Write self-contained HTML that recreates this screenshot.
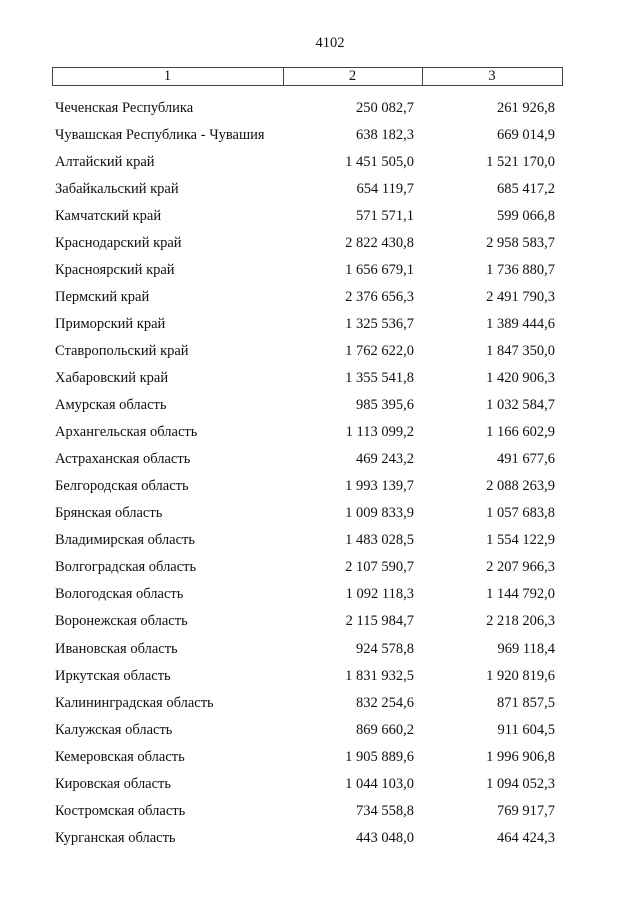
<!DOCTYPE html>
<html>
<head>
<meta charset="utf-8">
<style>
html,body{margin:0;padding:0;background:#fff;}
body{width:640px;height:905px;position:relative;overflow:hidden;font-family:"Liberation Serif","Noto Serif CJK SC",serif;color:#111;}
.pg{position:absolute;left:0;width:660px;text-align:center;top:29.6px;font-size:14.5px;line-height:27.05px;}
.box{position:absolute;left:52px;top:67px;width:509px;height:17px;border:1px solid #444;}
.v{position:absolute;top:67px;width:1px;height:19px;background:#444;}
.h{position:absolute;top:62.6px;font-size:14.5px;line-height:27.05px;text-align:center;}
.rows{position:absolute;left:0;top:94.6px;width:640px;}
.r{position:relative;height:27.05px;line-height:27.05px;font-size:14.5px;white-space:nowrap;}
.r .a{position:absolute;left:55px;}
.r .b{position:absolute;right:226px;}
.r .c{position:absolute;right:85px;}
</style>
</head>
<body>
<div class="pg">4102</div>
<div class="box"></div>
<div class="v" style="left:283px"></div>
<div class="v" style="left:422px"></div>
<div class="h" style="left:52px;width:231px">1</div>
<div class="h" style="left:283px;width:139px">2</div>
<div class="h" style="left:422px;width:140px">3</div>
<div class="rows">
<div class="r"><span class="a">Чеченская Республика</span><span class="b">250 082,7</span><span class="c">261 926,8</span></div>
<div class="r"><span class="a">Чувашская Республика - Чувашия</span><span class="b">638 182,3</span><span class="c">669 014,9</span></div>
<div class="r"><span class="a">Алтайский край</span><span class="b">1 451 505,0</span><span class="c">1 521 170,0</span></div>
<div class="r"><span class="a">Забайкальский край</span><span class="b">654 119,7</span><span class="c">685 417,2</span></div>
<div class="r"><span class="a">Камчатский край</span><span class="b">571 571,1</span><span class="c">599 066,8</span></div>
<div class="r"><span class="a">Краснодарский край</span><span class="b">2 822 430,8</span><span class="c">2 958 583,7</span></div>
<div class="r"><span class="a">Красноярский край</span><span class="b">1 656 679,1</span><span class="c">1 736 880,7</span></div>
<div class="r"><span class="a">Пермский край</span><span class="b">2 376 656,3</span><span class="c">2 491 790,3</span></div>
<div class="r"><span class="a">Приморский край</span><span class="b">1 325 536,7</span><span class="c">1 389 444,6</span></div>
<div class="r"><span class="a">Ставропольский край</span><span class="b">1 762 622,0</span><span class="c">1 847 350,0</span></div>
<div class="r"><span class="a">Хабаровский край</span><span class="b">1 355 541,8</span><span class="c">1 420 906,3</span></div>
<div class="r"><span class="a">Амурская область</span><span class="b">985 395,6</span><span class="c">1 032 584,7</span></div>
<div class="r"><span class="a">Архангельская область</span><span class="b">1 113 099,2</span><span class="c">1 166 602,9</span></div>
<div class="r"><span class="a">Астраханская область</span><span class="b">469 243,2</span><span class="c">491 677,6</span></div>
<div class="r"><span class="a">Белгородская область</span><span class="b">1 993 139,7</span><span class="c">2 088 263,9</span></div>
<div class="r"><span class="a">Брянская область</span><span class="b">1 009 833,9</span><span class="c">1 057 683,8</span></div>
<div class="r"><span class="a">Владимирская область</span><span class="b">1 483 028,5</span><span class="c">1 554 122,9</span></div>
<div class="r"><span class="a">Волгоградская область</span><span class="b">2 107 590,7</span><span class="c">2 207 966,3</span></div>
<div class="r"><span class="a">Вологодская область</span><span class="b">1 092 118,3</span><span class="c">1 144 792,0</span></div>
<div class="r"><span class="a">Воронежская область</span><span class="b">2 115 984,7</span><span class="c">2 218 206,3</span></div>
<div class="r"><span class="a">Ивановская область</span><span class="b">924 578,8</span><span class="c">969 118,4</span></div>
<div class="r"><span class="a">Иркутская область</span><span class="b">1 831 932,5</span><span class="c">1 920 819,6</span></div>
<div class="r"><span class="a">Калининградская область</span><span class="b">832 254,6</span><span class="c">871 857,5</span></div>
<div class="r"><span class="a">Калужская область</span><span class="b">869 660,2</span><span class="c">911 604,5</span></div>
<div class="r"><span class="a">Кемеровская область</span><span class="b">1 905 889,6</span><span class="c">1 996 906,8</span></div>
<div class="r"><span class="a">Кировская область</span><span class="b">1 044 103,0</span><span class="c">1 094 052,3</span></div>
<div class="r"><span class="a">Костромская область</span><span class="b">734 558,8</span><span class="c">769 917,7</span></div>
<div class="r"><span class="a">Курганская область</span><span class="b">443 048,0</span><span class="c">464 424,3</span></div>
</div>
</body>
</html>
